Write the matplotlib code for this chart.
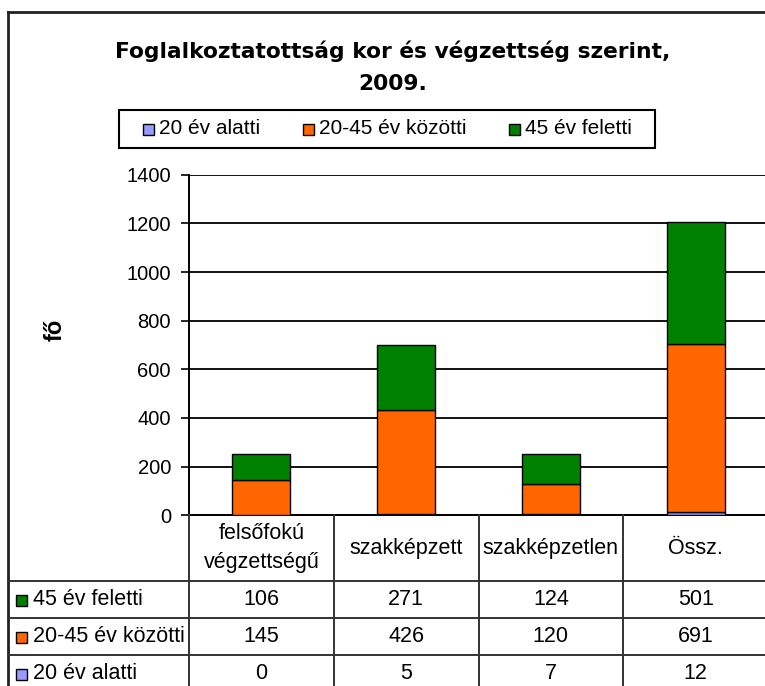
import matplotlib
matplotlib.use("Agg")
import matplotlib.pyplot as plt
import matplotlib.transforms as mtransforms
from matplotlib.patches import Rectangle
from matplotlib.lines import Line2D
import numpy as np

# ---- data ----
categories = ["felsőfokú\nvégzettségű", "szakképzett", "szakképzetlen", "Össz."]
series_names = ["20 év alatti", "20-45 év közötti", "45 év feletti"]
under20 = [0, 5, 7, 12]
age20_45 = [145, 426, 120, 691]
over45 = [106, 271, 124, 501]
colors = ["#9999FF", "#FF6600", "#008000"]
title = "Foglalkoztatottság kor és végzettség szerint,\n2009."
ylabel = "fő"
yticks = [0, 200, 400, 600, 800, 1000, 1200, 1400]

W, H = 765, 686
fig = plt.figure(figsize=(W / 100, H / 100), dpi=100)
fig.patch.set_facecolor("white")

def fx(px):
    return px / W

def fy(py):
    return 1 - py / H

FONT = "Liberation Sans"

ax_left, ax_right = 189, 768
ax_top, ax_bot = 174.7, 515.3
ax = fig.add_axes([fx(ax_left), fy(ax_bot), (ax_right - ax_left) / W, (ax_bot - ax_top) / H])

x = np.arange(len(categories))
bw = 0.40
series = [under20, age20_45, over45]
bottom = np.zeros(len(categories))
for vals, col in zip(series, colors):
    ax.bar(x, vals, bw, bottom=bottom, color=col, edgecolor="black", linewidth=1.0, zorder=3)
    bottom += np.array(vals)

ax.set_xlim(-0.5, len(categories) - 0.5)
ax.set_ylim(0, 1400)
ax.set_yticks(yticks)
ax.set_yticklabels([str(v) for v in yticks], fontfamily=FONT, fontsize=14.5)
ax.tick_params(axis="y", length=6, width=1.2, pad=7, colors="black")
ax.set_xticks([])
ax.yaxis.grid(True, color="#111111", linewidth=1.4, zorder=0)
ax.set_axisbelow(True)
for s in ["top", "right"]:
    ax.spines[s].set_visible(False)
ax.spines["left"].set_linewidth(1.4)
ax.spines["bottom"].set_linewidth(1.4)

# y label
fig.text(fx(55), fy(330), ylabel, rotation=90, ha="center", va="center",
         fontfamily=FONT, fontweight="bold", fontsize=17)

# title
fig.text(fx(393), fy(67.5), title, ha="center", va="center", fontfamily="DejaVu Sans",
         fontweight="bold", fontsize=15.7, linespacing=1.75)

# outer border (cropped chart area)
fig.add_artist(Line2D([fx(7.5), fx(7.5)], [fy(12), fy(686)], color="#222222", lw=2, transform=fig.transFigure))
fig.add_artist(Line2D([fx(7.5), fx(765)], [fy(12), fy(12)], color="#222222", lw=2, transform=fig.transFigure))

# legend box
fig.add_artist(Rectangle((fx(119), fy(148)), fx(655) - fx(119), fy(110) - fy(148),
                         transform=fig.transFigure, facecolor="white", edgecolor="black", lw=1.5))
leg_marker_x = [143, 303, 509]
leg_y = 129
for name, col, mx in zip(series_names, colors, leg_marker_x):
    fig.add_artist(Rectangle((fx(mx), fy(leg_y + 5.5)), 11 / W, 11 / H, transform=fig.transFigure,
                             facecolor=col, edgecolor="black", lw=1))
    fig.text(fx(mx + 16), fy(leg_y), name, ha="left", va="center", fontfamily=FONT, fontsize=15)

# data table
bt = mtransforms.blended_transform_factory(ax.transData, fig.transFigure)
row_lines = [581, 618, 655]
header_mid = (515.3 + 581) / 2
line_col = "#333333"
for b in np.arange(len(categories) + 1) - 0.5:
    fig.add_artist(Line2D([b, b], [fy(515.3), fy(686)], color=line_col, lw=1.4, transform=bt, clip_on=False))
for ry in row_lines:
    fig.add_artist(Line2D([fx(7.5), fx(765)], [fy(ry), fy(ry)], color=line_col, lw=1.4,
                          transform=fig.transFigure))
for i, c in enumerate(categories):
    fig.text(i, fy(header_mid), c, transform=bt, ha="center", va="center",
             fontfamily=FONT, fontsize=15.5, linespacing=1.5)
row_centers = [599.5, 636.5, 673.5]
table_rows = list(zip(series_names, colors, series))[::-1]
for (name, col, vals), ry in zip(table_rows, row_centers):
    fig.add_artist(Rectangle((fx(16), fy(ry + 6.5)), 11 / W, 11 / H, transform=fig.transFigure,
                             facecolor=col, edgecolor="black", lw=1))
    fig.text(fx(33), fy(ry), name, ha="left", va="center", fontfamily=FONT, fontsize=15.5)
    for i, v in enumerate(vals):
        fig.text(i, fy(ry), str(v), transform=bt, ha="center", va="center",
                 fontfamily=FONT, fontsize=15.5)

fig.savefig("out.png", dpi=100)
